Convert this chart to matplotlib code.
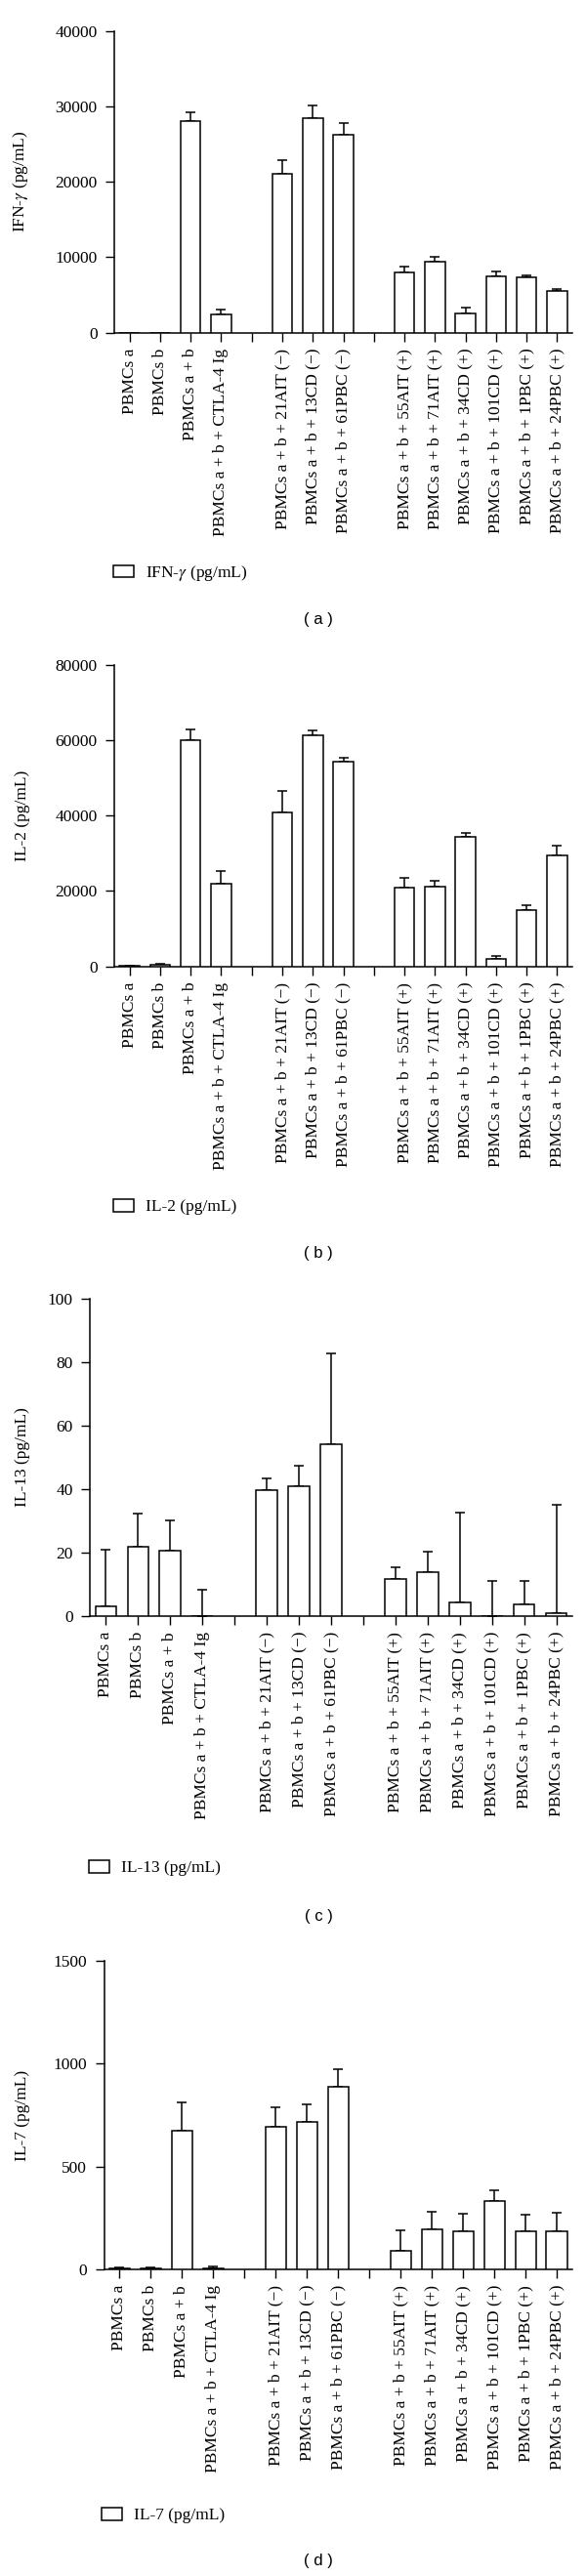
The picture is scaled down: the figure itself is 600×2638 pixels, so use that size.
import numpy as np
import matplotlib
matplotlib.use("Agg")
import matplotlib.pyplot as plt

plt.rcParams['font.family'] = ['Liberation Serif', 'DejaVu Serif']
plt.rcParams['mathtext.fontset'] = 'stix'

# sample groups (gap between each group on the x axis)
controls = ['PBMCs a', 'PBMCs b', 'PBMCs a + b', 'PBMCs a + b + CTLA-4 Ig']
neg = ['PBMCs a + b + 21AIT (\u2212)', 'PBMCs a + b + 13CD (\u2212)',
       'PBMCs a + b + 61PBC (\u2212)']
pos = ['PBMCs a + b + 55AIT (+)', 'PBMCs a + b + 71AIT (+)', 'PBMCs a + b + 34CD (+)',
       'PBMCs a + b + 101CD (+)', 'PBMCs a + b + 1PBC (+)', 'PBMCs a + b + 24PBC (+)']

# cytokine means and upper error (pg/mL)
ifn = [0, 0, 28100, 2450, 21050, 28400, 26250, 8050, 9350, 2600, 7500, 7350, 5500]
ifn_err = [0, 0, 1100, 650, 1800, 1700, 1600, 750, 700, 700, 650, 250, 300]

il2 = [100, 450, 59900, 21850, 40800, 61250, 54350, 20800, 21200, 34250, 2050, 14850, 29350]
il2_err = [100, 300, 2900, 3350, 5700, 1400, 1100, 2750, 1400, 1200, 700, 1450, 2600]

il13 = [3.2, 22.0, 20.7, 0, 39.7, 41.0, 54.2, 11.7, 14.0, 4.2, 0, 3.7, 1.0]
il13_err = [17.8, 10.3, 9.6, 8.3, 3.8, 6.3, 28.6, 3.8, 6.3, 28.4, 11.0, 7.4, 34.2]

il7 = [3, 3, 674, 3, 691, 715, 886, 90, 195, 187, 331, 184, 187]
il7_err = [8, 8, 139, 12, 99, 87, 87, 100, 85, 85, 53, 83, 90]

# x positions: groups separated by one empty slot
groups = [controls, neg, pos]
xpos = []
ticklabels = []
k = 0
for gi, g in enumerate(groups):
    for lab in g:
        xpos.append(k)
        ticklabels.append(lab)
        k += 1
    if gi < len(groups) - 1:
        ticklabels.append('')
        k += 1
xpos = np.array(xpos)
alltick = np.arange(k)

W, H = 600, 2638
fig = plt.figure(figsize=(W / 100, H / 100), dpi=100)

# (values, err, ylabel, ymax, yticks, axes px box [left, top, right, bottom], legend px, letter px)
panels = [
    (ifn, ifn_err, 'IFN-$\\gamma$ (pg/mL)', 40000, [0, 10000, 20000, 30000, 40000],
     [117, 31.7, 586, 340.7], (116, 587), 'a', (326, 634)),
    (il2, il2_err, 'IL-2 (pg/mL)', 80000, [0, 20000, 40000, 60000, 80000],
     [117, 680.7, 586, 989.7], (116, 1236), 'b', (326, 1283)),
    (il13, il13_err, 'IL-13 (pg/mL)', 100, [0, 20, 40, 60, 80, 100],
     [92, 1330, 586, 1655], (91, 1913), 'c', (326, 1962)),
    (il7, il7_err, 'IL-7 (pg/mL)', 1500, [0, 500, 1000, 1500],
     [106.5, 2008, 586, 2324], (104, 2576), 'd', (326, 2623)),
]

for vals, err, ylab, ymax, yt, box, legpos, letter, letpos in panels:
    l, t, r, b = box
    ax = fig.add_axes([l / W, 1 - b / H, (r - l) / W, (b - t) / H])
    vals = np.array(vals, dtype=float)
    err = np.array(err, dtype=float)
    bars = ax.bar(xpos, vals, width=0.66, color='white', edgecolor='black',
                  linewidth=1.1, label=ylab, zorder=3)
    m = err > 0
    ax.errorbar(xpos[m], vals[m], yerr=[np.zeros(m.sum()), err[m]], fmt='none',
                ecolor='black', elinewidth=1.1, capsize=3.5, capthick=1.1, zorder=2)
    ax.set_xlim(-0.5, k - 0.5)
    ax.set_ylim(0, ymax)
    ax.set_yticks(yt)
    ax.set_xticks(alltick)
    ax.set_xticklabels(ticklabels, rotation=90, fontsize=12.5)
    ax.tick_params(axis='y', labelsize=12.5, direction='out', length=6.5, width=1, pad=6)
    ax.tick_params(axis='x', direction='out', length=6.5, width=1, pad=5)
    for s in ['top', 'right']:
        ax.spines[s].set_visible(False)
    for s in ['left', 'bottom']:
        ax.spines[s].set_linewidth(1.1)
    ax.set_ylabel(ylab, fontsize=12.5)
    ax.yaxis.set_label_coords(31 / W, 1 - (t + b) / 2 / H, transform=fig.transFigure)

    leg = ax.legend(handles=[bars.patches[2]], labels=[ylab], loc='center left',
                    bbox_to_anchor=(legpos[0] / W, 1 - legpos[1] / H),
                    bbox_transform=fig.transFigure, frameon=False, fontsize=12.5,
                    handlelength=1.2, handleheight=0.75, handletextpad=0.7,
                    borderpad=0, borderaxespad=0)
    fig.text(letpos[0] / W, 1 - letpos[1] / H, '( %s )' % letter, ha='center', va='center',
             fontsize=12, family=['Liberation Sans', 'DejaVu Sans'])

fig.savefig('out.png', dpi=100, facecolor='white')
